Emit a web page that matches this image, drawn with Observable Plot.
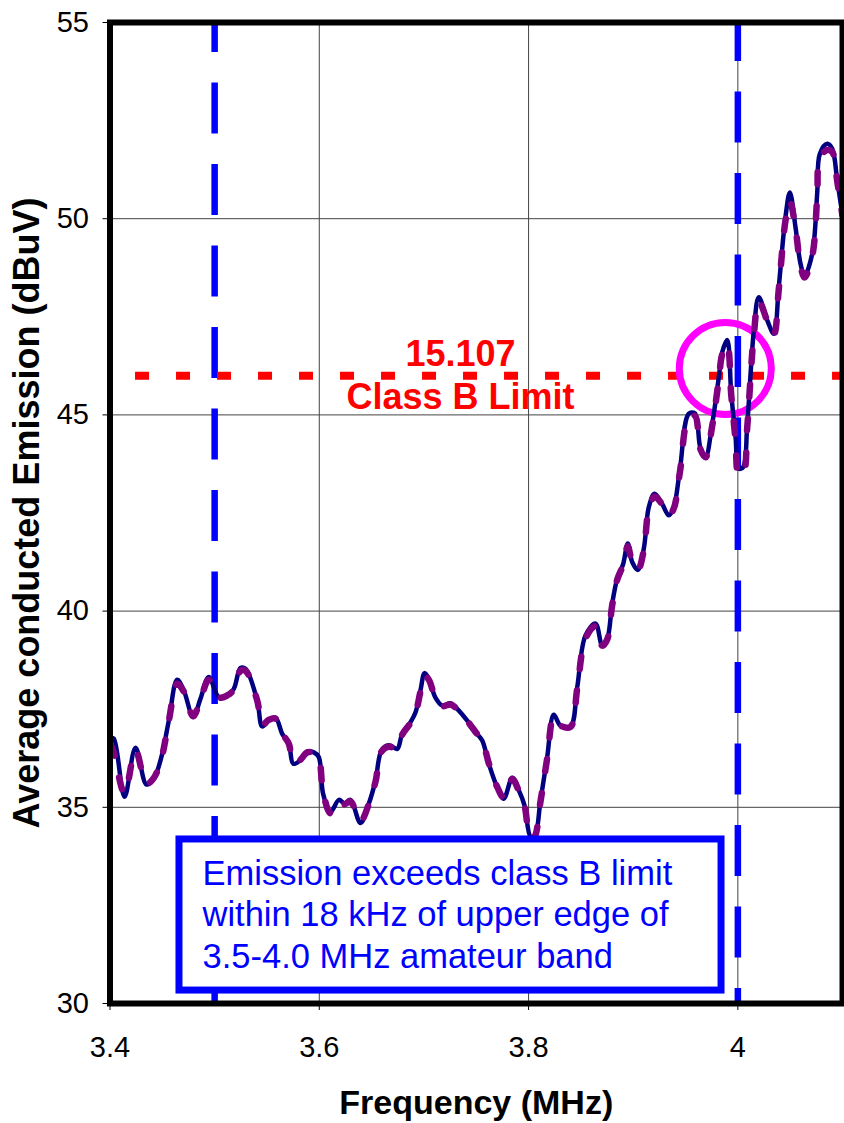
<!DOCTYPE html>
<html>
<head>
<meta charset="utf-8">
<script src="https://cdn.jsdelivr.net/npm/d3@7"></script>
<script src="https://cdn.jsdelivr.net/npm/@observablehq/plot@0.6"></script>
<style>
  html, body { margin: 0; padding: 0; background: #fff; }
  #chart { width: 844px; height: 1123px; }
  svg { font-family: "Liberation Sans", Arial, sans-serif; }
  #chart svg g[aria-label*="axis"] text { font-size: 29px !important; font-family: "Liberation Sans", Arial, sans-serif !important; }
</style>
</head>
<body>
<div id="chart"></div>
<script>
// Frequency (MHz)
const freqMHz = [3.4005,3.4036,3.4139,3.4244,3.4349,3.4419,3.4492,3.4562,3.4642,3.4705,
3.4795,3.4865,3.4944,3.5040,3.5120,3.5183,3.5247,3.5295,3.5407,3.5455,
3.5518,3.5582,3.5646,3.5709,3.5751,3.5814,3.5885,3.5948,3.5995,3.6037,
3.6107,3.6187,3.6241,3.6298,3.6394,3.6473,3.6537,3.6595,3.6664,3.6745,
3.6792,3.6872,3.6920,3.6967,3.7006,3.7047,3.7111,3.7175,3.7254,3.7318,
3.7414,3.7493,3.7557,3.7620,3.7700,3.7763,3.7844,3.7907,3.7961,3.8019,
3.8057,3.8114,3.8178,3.8241,3.8305,3.8401,3.8465,3.8544,3.8640,3.8704,
3.8752,3.8799,3.8847,3.8904,3.8948,3.8990,3.9044,3.9101,3.9149,3.9204,
3.9277,3.9340,3.9388,3.9445,3.9531,3.9589,3.9643,3.9691,3.9755,3.9818,
3.9851,3.9898,3.9937,3.9978,4.0009,4.0051,4.0090,4.0153,4.0200,4.0281,
4.0344,4.0391,4.0455,4.0497,4.0551,4.0599,4.0637,4.0711,4.0758,4.0783,
4.0854,4.0902,4.0950,4.0998];

// Average conducted emission (dBuV) - solid navy trace
const avgEmission = [36.77,36.75,35.27,36.52,35.58,35.73,36.29,37.21,38.25,37.98,
37.30,37.77,38.32,37.81,37.85,38.02,38.55,38.53,37.72,37.06,
37.23,37.28,36.87,36.62,36.11,36.19,36.42,36.40,36.28,35.34,
34.88,35.19,35.10,35.19,34.60,35.09,35.68,36.45,36.58,36.49,
36.87,37.17,37.42,37.98,38.42,38.27,37.79,37.59,37.65,37.51,
37.21,36.92,36.70,36.11,35.51,35.22,35.75,35.43,35.05,34.25,
34.25,35.17,36.28,37.36,37.08,37.06,38.06,39.38,39.68,39.12,
39.29,40.19,40.82,41.20,41.72,41.25,41.05,41.59,42.65,42.99,
42.73,42.44,42.65,43.58,45.03,45.04,44.14,43.92,44.77,45.96,
46.60,46.91,45.54,44.43,43.63,43.67,44.77,47.15,48.00,47.41,
47.07,48.26,50.04,50.67,49.78,48.85,48.55,49.11,50.64,51.65,
51.91,51.78,50.97,50.12];

// Second (dashed purple) trace
const dashEmission = [36.60,36.40,35.35,36.45,35.60,35.75,36.25,37.20,38.15,37.95,
37.32,37.75,38.25,37.80,37.85,38.00,38.48,38.48,37.72,37.10,
37.23,37.26,36.88,36.62,36.15,36.20,36.40,36.38,36.25,35.38,
34.85,35.15,35.08,35.15,34.65,35.08,35.65,36.42,36.55,36.48,
36.85,37.15,37.40,37.95,38.35,38.25,37.78,37.58,37.62,37.50,
37.20,36.92,36.70,36.12,35.52,35.25,35.72,35.42,35.05,34.20,
34.25,35.15,36.25,37.30,37.08,37.05,38.02,39.30,39.62,39.12,
39.28,40.15,40.80,41.18,41.65,41.25,41.05,41.55,42.60,42.92,
42.72,42.44,42.62,43.52,44.95,44.98,44.12,43.92,44.72,45.90,
46.55,46.80,45.50,44.35,43.48,43.50,44.70,47.05,47.90,47.40,
47.05,48.20,49.95,50.45,49.75,48.80,48.50,49.05,50.55,51.55,
51.75,51.70,50.95,50.10];

const xTicks = [3.4, 3.6, 3.8, 4];
const yTicks = [30, 35, 40, 45, 50, 55];
const xGrid = [3.6, 3.8, 4];
const yGrid = [35, 40, 45, 50];
const bandEdges = [3.5, 4.0];
const classBLimit = 46;
const limitLabel = "15.107";
const limitLabel2 = "Class B Limit";
const noteLines = "Emission exceeds class B limit\nwithin 18 kHz of upper edge of\n3.5-4.0 MHz amateur band";
const xTitle = "Frequency (MHz)";
const yTitle = "Average conducted Emission (dBuV)";

const table = freqMHz.map((f, i) => ({f, avg: avgEmission[i], dash: dashEmission[i]}));

const chart = Plot.plot({
  width: 844,
  height: 1123,
  marginLeft: 109.5,
  marginRight: 2,
  marginTop: 22,
  marginBottom: 120,
  style: {fontFamily: "Liberation Sans, Arial, sans-serif", fontSize: "29px", color: "#000", background: "#fff"},
  x: {domain: [3.4, 4.1], ticks: xTicks, tickFormat: d => String(d), tickSize: 7, tickPadding: 26, label: null},
  y: {domain: [30, 55], ticks: yTicks, tickSize: 7, tickPadding: 14, label: null},
  marks: [
    Plot.ruleX(xGrid, {stroke: "#444", strokeWidth: 1}),
    Plot.ruleY(yGrid, {stroke: "#444", strokeWidth: 1}),
    Plot.ruleX([bandEdges[0]], {y1: 55, y2: 30, stroke: "#0000ff", strokeWidth: 6.5, strokeDasharray: "51,30.5", strokeDashoffset: 21}),
    Plot.ruleX([bandEdges[1]], {y1: 55, y2: 30, stroke: "#0000ff", strokeWidth: 6.5, strokeDasharray: "51,30.5", strokeDashoffset: 12}),
    Plot.ruleY([classBLimit], {x1: 3.4244, x2: 4.1, stroke: "#ff0000", strokeWidth: 8, strokeDasharray: "14,27"}),
    Plot.text([limitLabel], {x: 3.735, y: 46.54, text: d => d, fill: "#ff0000", fontWeight: "bold", fontSize: 36, lineAnchor: "middle"}),
    Plot.text([limitLabel2], {x: 3.735, y: 45.44, text: d => d, fill: "#ff0000", fontWeight: "bold", fontSize: 36, lineAnchor: "middle"}),
    Plot.dot([{x: 3.988, y: 46.18}], {x: "x", y: "y", r: 46, stroke: "#ff00ff", strokeWidth: 7, fill: "none"}),
    Plot.line(table, {x: "f", y: "avg", stroke: "#000080", strokeWidth: 4.5, curve: "catmull-rom", clip: true}),
    Plot.line(table, {x: "f", y: "dash", stroke: "#800080", strokeWidth: 6.5, strokeDasharray: "12,22", curve: "catmull-rom", clip: true}),
    Plot.rect([{}], {x1: 3.4664, x2: 3.9844, y1: 34.18, y2: 30.33, fill: "#fff", stroke: "#0000ff", strokeWidth: 7}),
    Plot.text([noteLines], {x: 3.4884, y: 33.77, text: d => d, fill: "#0000ff", fontSize: 34.5, textAnchor: "start", lineAnchor: "top", lineHeight: 1.2}),
    Plot.text([xTitle], {frameAnchor: "bottom", dy: 100, text: d => d, fontWeight: "bold", fontSize: 34, fill: "#000", lineAnchor: "middle", textAnchor: "middle"}),
    Plot.text([yTitle], {frameAnchor: "left", dx: -83, rotate: -90, text: d => d, fontWeight: "bold", fontSize: 36, fill: "#000", lineAnchor: "middle", textAnchor: "middle"}),
    Plot.frame({stroke: "#000", strokeWidth: 6})
  ]
});
document.getElementById("chart").appendChild(chart);
</script>
</body>
</html>
